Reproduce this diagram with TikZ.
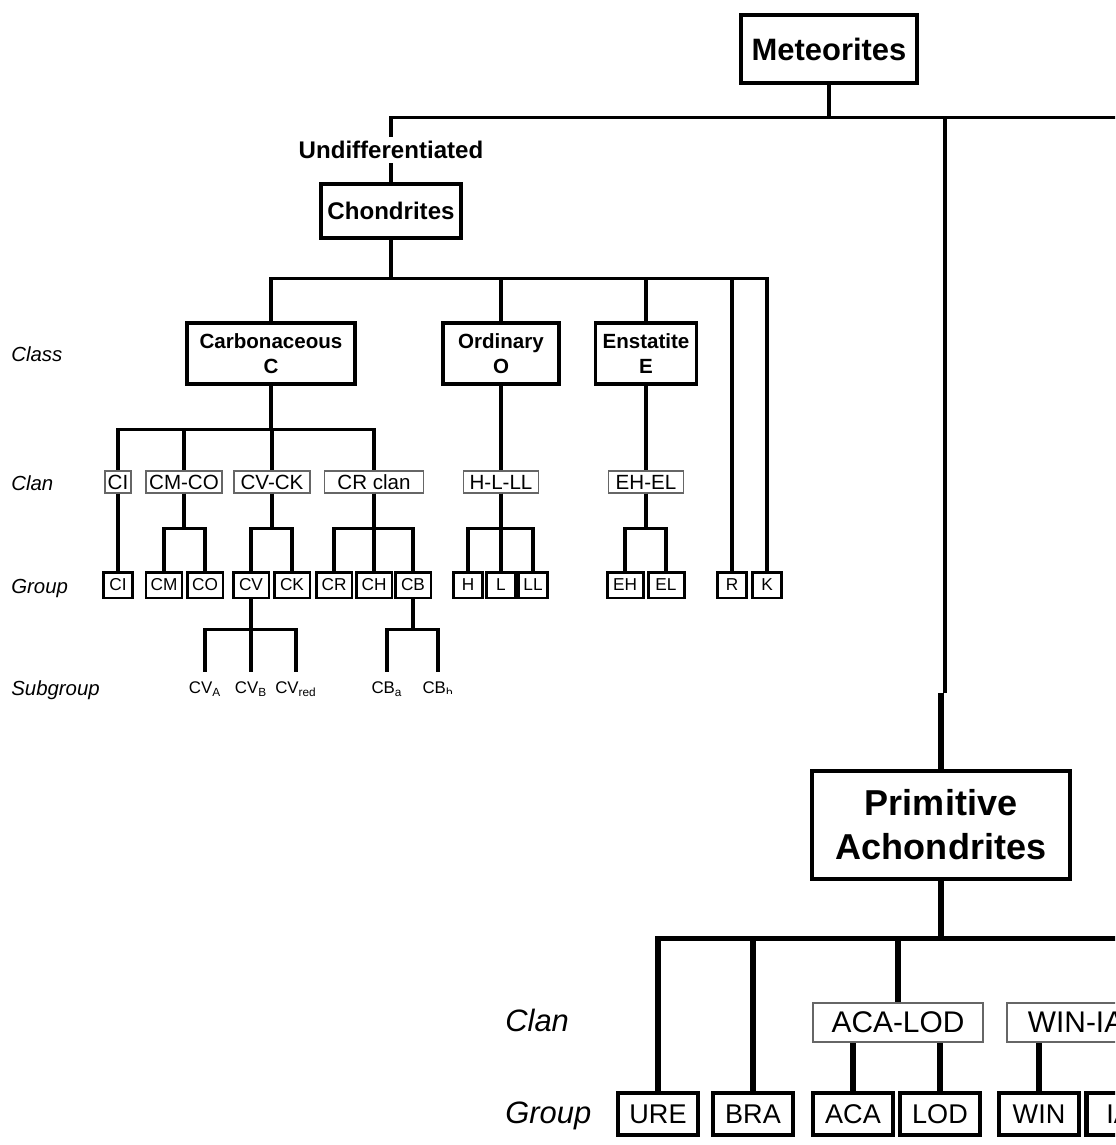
\documentclass[tikz,border=0pt]{standalone}
\usepackage{fontspec}
\setmainfont{Liberation Sans}
\newcommand{\fsz}[2]{\fontsize{#1}{#2}\selectfont}

\begin{document}
\begin{tikzpicture}[
    x=0.02cm, y=-0.02cm,
    link/.style={line width=1.9pt},
    biglink/.style={line width=3pt},
    topbox/.style={draw, line width=1.8pt, inner sep=0pt, align=center},
    classbox/.style={topbox, font=\bfseries\fsz{11.7}{14.2}, minimum height=1.22cm},
    clanbox/.style={draw=black!60, line width=0.8pt, inner sep=0pt, font=\fsz{11.7}{14}, minimum height=0.44cm},
    grpbox/.style={draw, line width=1.7pt, inner sep=0pt, font=\fsz{9.8}{11}, minimum height=0.52cm, minimum width=0.72cm},
    subgrp/.style={anchor=north, inner xsep=0pt, inner ysep=5.5pt, font=\fsz{9.6}{11}},
    level/.style={anchor=base west, inner sep=0pt, font=\itshape\fsz{11.6}{14}},
    bigclan/.style={draw=black!60, line width=1.1pt, inner sep=0pt, font=\fsz{17}{20}, minimum height=0.78cm},
    biggrp/.style={draw, line width=2.6pt, inner sep=0pt, font=\fsz{15.4}{18}, minimum height=0.84cm, minimum width=1.6cm},
    biglevel/.style={anchor=base west, inner sep=0pt, font=\itshape\fsz{17.6}{21}}
]

\useasboundingbox (0,0) rectangle (1115,1145);
\clip (0,0) rectangle (1115,1145);

% Wurzel
\node[topbox, font=\bfseries\fsz{17.6}{21}, minimum width=3.52cm, minimum height=1.36cm] (met) at (829,49) {Meteorites};
\coordinate (east) at (1130,117);
\coordinate (split) at (945,693);

% undifferenziert
\node[inner sep=0pt, minimum height=0.52cm, font=\bfseries\fsz{13.7}{16}] (undiff) at (391,150) {Undifferentiated};
\node[topbox, font=\bfseries\fsz{13.7}{16}, minimum width=2.8cm, minimum height=1.08cm] (chond) at (391,211) {Chondrites};

\draw[link] (met.south) -- ++(0,33) coordinate (bar) -| (undiff.north);
\draw[link] (bar) -| (split);
\draw[link] (bar) -- (bar -| east);
\draw[link] (undiff.south) -- (chond.north);

% Ebenen
\node[level] (lclass) at (11,361) {Class};
\node[level] (lclan) at (11,490) {Clan};
\node[level] (lgroup) at (11,593) {Group};
\node[level] (lsub) at (11,695) {Subgroup};

% Klassen
\node[classbox, minimum width=3.36cm] (carb) at (271,353.5) {Carbonaceous\\C};
\node[classbox, minimum width=2.32cm] (ord) at (501,353.5) {Ordinary\\O};
\node[classbox, minimum width=2.02cm] (enst) at (646,353.5) {Enstatite\\E};
\node[grpbox, minimum width=0.58cm] (r) at (732,585) {R};
\node[grpbox, minimum width=0.58cm] (k) at (767,585) {K};

\foreach \n in {carb,ord,enst,r,k}
    \draw[link] (chond.south) -- ++(0,39) -| (\n.north);

% Clans
\node[clanbox, minimum width=0.52cm] (ci) at (118,482) {CI};
\node[clanbox, minimum width=1.52cm] (cmco) at (184,482) {CM-CO};
\node[clanbox, minimum width=1.52cm] (cvck) at (272,482) {CV-CK};
\node[clanbox, minimum width=1.98cm] (crcl) at (374,482) {CR clan};
\node[clanbox, minimum width=1.5cm] (hlll) at (501,482) {H-L-LL};
\node[clanbox, minimum width=1.5cm] (ehel) at (646,482) {EH-EL};

\foreach \n in {ci,cmco,cvck,crcl}
    \draw[link] (carb.south) -- ++(0,44) -| (\n.north);
\draw[link] (ord.south) -- (hlll.north);
\draw[link] (enst.south) -- (ehel.north);

% Gruppen
\node[grpbox, minimum width=0.58cm] (gci) at (118,585) {CI};
\node[grpbox] (gcm) at (164,585) {CM};
\node[grpbox] (gco) at (205,585) {CO};
\node[grpbox] (gcv) at (251,585) {CV};
\node[grpbox] (gck) at (292,585) {CK};
\node[grpbox] (gcr) at (334,585) {CR};
\node[grpbox] (gch) at (374,585) {CH};
\node[grpbox] (gcb) at (413,585) {CB};
\node[grpbox, minimum width=0.58cm] (gh) at (468,585) {H};
\node[grpbox, minimum width=0.58cm] (gl) at (501,585) {L};
\node[grpbox, minimum width=0.58cm] (gll) at (533,585) {LL};
\node[grpbox] (geh) at (625,585) {EH};
\node[grpbox] (gel) at (666,585) {EL};

\draw[link] (ci.south) -- (gci.north);
\foreach \n in {gcm,gco}
    \draw[link] (cmco.south) -- ++(0,35) -| (\n.north);
\foreach \n in {gcv,gck}
    \draw[link] (cvck.south) -- ++(0,35) -| (\n.north);
\foreach \n in {gcr,gch,gcb}
    \draw[link] (crcl.south) -- ++(0,35) -| (\n.north);
\foreach \n in {gh,gl,gll}
    \draw[link] (hlll.south) -- ++(0,35) -| (\n.north);
\foreach \n in {geh,gel}
    \draw[link] (ehel.south) -- ++(0,35) -| (\n.north);

% Untergruppen
\node[subgrp] (cva) at (205,672) {CV\textsubscript{A}};
\node[subgrp] (cvb) at (251,672) {CV\textsubscript{B}};
\node[subgrp] (cvred) at (296,672) {CV\textsubscript{red}};
\node[subgrp] (cba) at (387,672) {CB\textsubscript{a}};
\begin{scope}
    \clip (0,0) rectangle (1115,693.5);
    \node[subgrp] (cbb) at (438,672) {CB\textsubscript{b}};
\end{scope}

\foreach \n in {cva,cvb,cvred}
    \draw[link] (gcv.south) -- ++(0,30) -| (\n.north);
\foreach \n in {cba,cbb}
    \draw[link] (gcb.south) -- ++(0,30) -| (\n.north);

% primitive Achondrite
\node[topbox, font=\bfseries\fsz{20.5}{25}, line width=2.7pt, minimum width=5.16cm, minimum height=2.16cm] (pa) at (941,825) {Primitive\\Achondrites};
\coordinate (east2) at (1130,937);
\draw[biglink] (pa.north) -- (pa.north |- split);

\node[biglevel] (lclan2) at (505,1031) {Clan};
\node[biglevel] (lgroup2) at (505,1123) {Group};

\node[bigclan, minimum width=3.4cm] (acalod) at (898,1022.5) {ACA-LOD};
\node[bigclan, anchor=west, inner xsep=0.42cm] (winia) at (1006,1022.5) {WIN-IA};

\node[biggrp] (ure) at (658,1114) {URE};
\node[biggrp] (bra) at (753,1114) {BRA};
\node[biggrp] (aca) at (853,1114) {ACA};
\node[biggrp] (lod) at (940,1114) {LOD};
\node[biggrp] (win) at (1039,1114) {WIN};
\node[biggrp, anchor=west, minimum width=0pt, inner xsep=0.4cm] (ia) at (1084,1114) {IA};

\draw[biglink] (pa.south) -- ++(0,57) coordinate (bar2) -- (bar2 -| east2);
\foreach \n in {ure,bra,acalod}
    \draw[biglink] (bar2) -| (\n.north);
\draw[biglink] (aca.north) -- (aca.north |- acalod.south);
\draw[biglink] (lod.north) -- (lod.north |- acalod.south);
\draw[biglink] (win.north) -- (win.north |- winia.south);

\end{tikzpicture}
\end{document}
